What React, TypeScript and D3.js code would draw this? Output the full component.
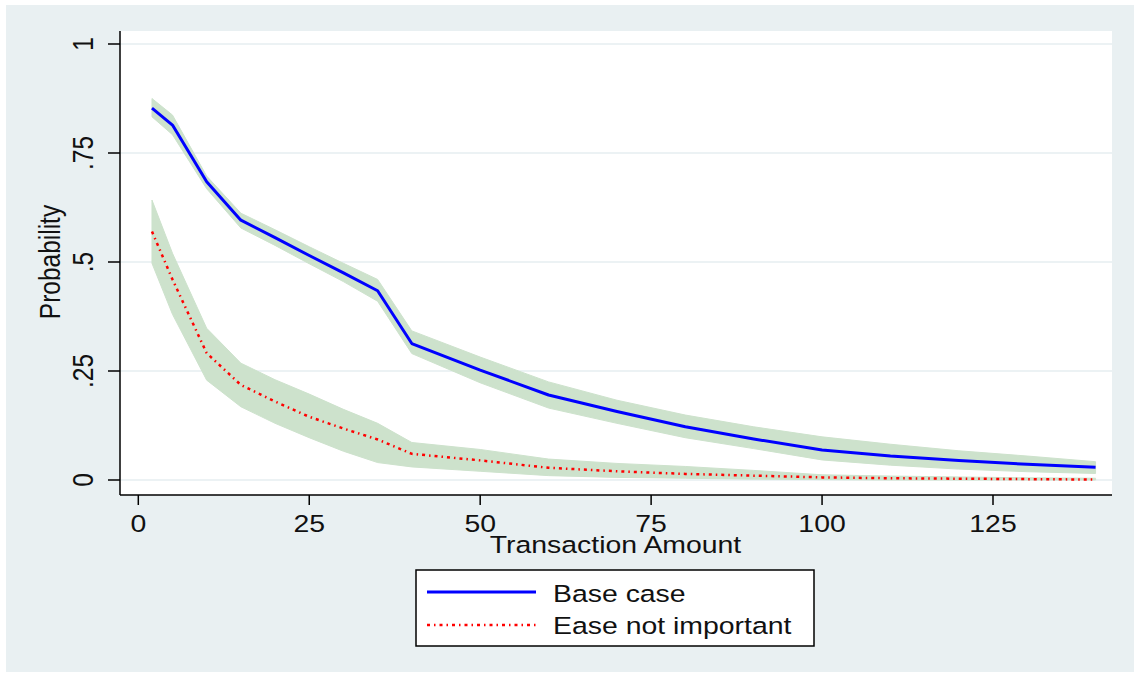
import * as d3 from 'd3';

// transaction amounts where the predictions were evaluated
const amounts = [2, 5, 10, 15, 20, 25, 30, 35, 40, 50, 60, 70, 80, 90, 100, 110, 120, 130, 140];

// base case: prediction and 95% band
const baseProb = [0.853, 0.814, 0.684, 0.596, 0.556, 0.515, 0.475, 0.434, 0.313, 0.252, 0.195, 0.157, 0.122, 0.094, 0.069, 0.055, 0.045, 0.036, 0.029];
const baseHi = [0.875, 0.837, 0.697, 0.612, 0.574, 0.535, 0.497, 0.46, 0.342, 0.282, 0.225, 0.183, 0.149, 0.122, 0.099, 0.082, 0.067, 0.055, 0.042];
const baseLo = [0.833, 0.792, 0.668, 0.578, 0.538, 0.496, 0.455, 0.41, 0.29, 0.223, 0.165, 0.13, 0.097, 0.072, 0.046, 0.034, 0.025, 0.019, 0.015];

// ease not important
const easeProb = [0.57, 0.46, 0.291, 0.218, 0.18, 0.145, 0.118, 0.093, 0.06, 0.045, 0.028, 0.02, 0.014, 0.01, 0.006, 0.004, 0.003, 0.002, 0.001];
const easeHi = [0.642, 0.52, 0.348, 0.268, 0.23, 0.197, 0.162, 0.13, 0.086, 0.07, 0.048, 0.038, 0.031, 0.022, 0.012, 0.009, 0.007, 0.005, 0.004];
const easeLo = [0.497, 0.38, 0.229, 0.168, 0.13, 0.097, 0.066, 0.04, 0.03, 0.02, 0.01, 0.006, 0.004, 0.002, 0.001, 0, 0, 0, 0];

const xTicks = [0, 25, 50, 75, 100, 125];
const yTicks = [0, 0.25, 0.5, 0.75, 1];
const yTickLabels = ['0', '.25', '.5', '.75', '1'];
const legendLabels = ['Base case', 'Ease not important'];

const W = 1134;
const H = 675;
const plot = { left: 120, right: 1112, top: 31, bottom: 495 };

const BG = '#e9f0f2';
const BAND = '#cde2cc';
const GRID = '#e6eef1';
const FONT = 'Liberation Sans, Arial, sans-serif';

// the picture is a bit wider than tall, so text is stretched horizontally
const Txt = ({ x, y, children, size = 24.5, anchor = 'middle', rotate = false, sx = 1.16 }: any) => (
  <text
    transform={`translate(${x},${y}) scale(${sx},1)${rotate ? ' rotate(-90)' : ''}`}
    textAnchor={anchor}
    fontFamily={FONT}
    fontSize={size}
    fill="#111"
  >
    {children}
  </text>
);

const App = () => {
  const x = d3.scaleLinear().domain([0, 125]).range([138.3, 993]);
  const y = d3.scaleLinear().domain([0, 1]).range([480, 44]);

  const rows = amounts.map((a, i) => ({
    a,
    base: baseProb[i], baseHi: baseHi[i], baseLo: baseLo[i],
    ease: easeProb[i], easeHi: easeHi[i], easeLo: easeLo[i],
  }));

  const baseBand = d3.area<any>().x(d => x(d.a)).y0(d => y(d.baseLo)).y1(d => y(d.baseHi))(rows);
  const easeBand = d3.area<any>().x(d => x(d.a)).y0(d => y(d.easeLo)).y1(d => y(d.easeHi))(rows);
  const baseLine = d3.line<any>().x(d => x(d.a)).y(d => y(d.base))(rows);
  const easeLine = d3.line<any>().x(d => x(d.a)).y(d => y(d.ease))(rows);

  return (
    <svg width={W} height={H} style={{ position: 'absolute', left: 0, top: 0 }}>
      <rect x={0} y={0} width={W} height={H} fill="#fff" />
      <rect x={6} y={5} width={W - 6} height={667} fill={BG} />
      <rect x={plot.left} y={plot.top} width={plot.right - plot.left} height={plot.bottom - plot.top} fill="#fff" />

      {/* gridlines */}
      {yTicks.map(t => (
        <line key={'g' + t} x1={plot.left} x2={plot.right} y1={y(t)} y2={y(t)} stroke={GRID} strokeWidth={1.5} />
      ))}

      {/* confidence bands */}
      <path d={baseBand!} fill={BAND} stroke={BAND} strokeWidth={1} />
      <path d={easeBand!} fill={BAND} stroke={BAND} strokeWidth={1} />

      {/* lines */}
      <path d={baseLine!} fill="none" stroke="#0000ff" strokeWidth={3} strokeLinejoin="round" />
      <path d={easeLine!} fill="none" stroke="#ff0000" strokeWidth={2.5} strokeDasharray="3 4 1.5 4" />

      {/* axes */}
      <line x1={plot.left} x2={plot.left} y1={plot.top} y2={plot.bottom} stroke="#000" strokeWidth={1.5} />
      <line x1={plot.left} x2={plot.right} y1={plot.bottom} y2={plot.bottom} stroke="#000" strokeWidth={1.5} />

      {yTicks.map((t, i) => (
        <g key={'y' + t}>
          <line x1={108} x2={plot.left} y1={y(t)} y2={y(t)} stroke="#000" strokeWidth={1.5} />
          <Txt x={93} y={y(t)} rotate sx={1.2}>{yTickLabels[i]}</Txt>
        </g>
      ))}

      {xTicks.map(t => (
        <g key={'x' + t}>
          <line x1={x(t)} x2={x(t)} y1={plot.bottom} y2={505} stroke="#000" strokeWidth={1.5} />
          <Txt x={x(t)} y={531.5}>{t}</Txt>
        </g>
      ))}

      <Txt x={615.5} y={553}>Transaction Amount</Txt>
      <Txt x={60} y={262} rotate sx={1.22}>Probability</Txt>

      {/* legend */}
      <rect x={416} y={570} width={398} height={76} fill="#fff" stroke="#000" strokeWidth={1.5} />
      <line x1={427} x2={536} y1={592} y2={592} stroke="#0000ff" strokeWidth={3} />
      <line x1={427} x2={536} y1={625} y2={625} stroke="#ff0000" strokeWidth={2.5} strokeDasharray="3 4 1.5 4" />
      <Txt x={553} y={601.5} anchor="start">{legendLabels[0]}</Txt>
      <Txt x={553} y={633.5} anchor="start">{legendLabels[1]}</Txt>
    </svg>
  );
};

export default App;
